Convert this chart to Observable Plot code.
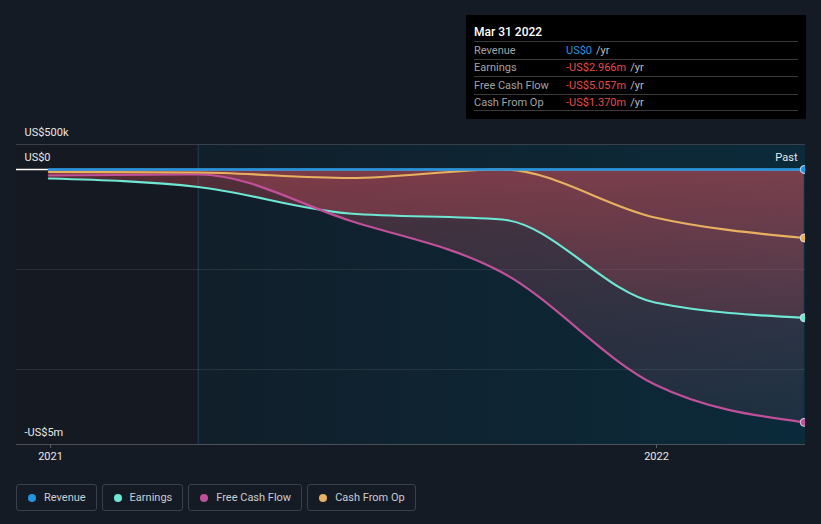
<!DOCTYPE html>
<html><head><meta charset="utf-8">
<script src="https://cdn.jsdelivr.net/npm/d3@7"></script>
<script src="https://cdn.jsdelivr.net/npm/@observablehq/plot@0.6"></script>
<style>
html,body{margin:0;padding:0;background:#151b24;}
body{width:821px;height:524px;position:relative;overflow:hidden;font-family:Roboto,"Noto Sans",sans-serif;}
#chart{position:absolute;left:0;top:0;}
#tip{position:absolute;left:466px;top:15px;width:340px;height:104px;background:#000;box-sizing:border-box;padding:0 8px;}
#tip .tt{color:#fff;font-size:12px;font-weight:500;height:26px;line-height:16px;padding-top:9px;box-sizing:border-box;}
#tip .row{border-top:1px solid #3a3a3a;height:17.5px;box-sizing:border-box;display:flex;align-items:center;font-size:11px;}
#tip .row.last{border-bottom:1px solid #3a3a3a;}
#tip .lab{color:#a3a3a3;width:92px;}
#tip .yr{color:#bdbdbd;margin-left:4px;}
#legend{position:absolute;left:16px;top:484px;display:flex;gap:5px;}
.item{height:27px;border:1px solid #3a404b;border-radius:3px;display:flex;align-items:center;padding:0 10px 0 11px;color:#c9ccd3;font-size:11px;box-sizing:border-box;}
.dot{width:8px;height:8px;border-radius:50%;margin-right:8px;}
</style></head>
<body>
<div id="chart"></div>
<div id="tip"></div>
<div id="legend"></div>
<script>
// ---- data ----
const dates = ["2020-12-31","2021-03-31","2021-06-30","2021-09-30","2021-12-31","2022-03-31"];
const revenue = [0, 0, 0, 0, 0, 0];
const earnings = [-180000, -350000, -880000, -1000000, -2660000, -2966000];
const freeCashFlow = [-120000, -100000, -1020000, -2060000, -4300000, -5057000];
const cashFromOp = [-50000, -60000, -170000, 0, -960000, -1370000];
const seriesNames = ["Revenue", "Earnings", "Free Cash Flow", "Cash From Op"];
const seriesColors = ["#2394df", "#6ee7d4", "#c0509a", "#e8b160"];
const yLabelValues = [500000, 0, -5500000];
const yLabels = ["US$500k", "US$0", "-US$5m"];
const gridValues = [-2000000, -4000000];
const xTicks = ["2021-01-01", "2022-01-01"];
const xTickLabels = ["2021", "2022"];
const xDomain = ["2020-12-11T12:00:00Z", "2022-03-31T18:00:00Z"];
const yDomain = [-5500000, 500000];
const pastStart = "2021-03-31";
const tipTitle = "Mar 31 2022";

const rows = dates.map((d, i) => ({
  date: new Date(d), revenue: revenue[i], earnings: earnings[i],
  fcf: freeCashFlow[i], cfo: cashFromOp[i]
}));
const last = rows[rows.length - 1];
const keys = ["revenue", "earnings", "fcf", "cfo"];
const xTickDates = xTicks.map(d => new Date(d));
const ymd = d3.utcFormat("%Y-%m-%d");

const defs = () => {
  const d = d3.create("svg:defs");
  const g1 = d.append("linearGradient").attr("id", "gPast").attr("x1", 0).attr("x2", 1).attr("y1", 0).attr("y2", 0);
  g1.append("stop").attr("offset", 0).attr("stop-color", "#111f2a");
  g1.append("stop").attr("offset", 1).attr("stop-color", "#0b2a3a");
  const g2 = d.append("linearGradient").attr("id", "gE").attr("x1", 0).attr("x2", 0).attr("y1", 0).attr("y2", 1);
  g2.append("stop").attr("offset", 0).attr("stop-color", "#e0505a").attr("stop-opacity", 0.32);
  g2.append("stop").attr("offset", 1).attr("stop-color", "#e0505a").attr("stop-opacity", 0.15);
  const g3 = d.append("linearGradient").attr("id", "gF").attr("x1", 0).attr("x2", 0).attr("y1", 0).attr("y2", 1);
  g3.append("stop").attr("offset", 0).attr("stop-color", "#c45060").attr("stop-opacity", 0.34);
  g3.append("stop").attr("offset", 1).attr("stop-color", "#a06078").attr("stop-opacity", 0.12);
  return d.node();
};

const chart = Plot.plot({
  width: 821, height: 470,
  marginLeft: 16, marginRight: 16, marginTop: 144, marginBottom: 26,
  style: {background: "transparent", fontFamily: "Roboto, 'Noto Sans', sans-serif"},
  x: {type: "utc", domain: xDomain.map(d => new Date(d))},
  y: {type: "linear", domain: yDomain, axis: null},
  marks: [
    defs,
    Plot.rect([{x1: new Date(xDomain[0]), x2: new Date(pastStart)}], {x1: "x1", x2: "x2", y1: yDomain[0], y2: yDomain[1], fill: "#151a22"}),
    Plot.rect([{x1: new Date(pastStart), x2: new Date(xDomain[1])}], {x1: "x1", x2: "x2", y1: yDomain[0], y2: yDomain[1], fill: "url(#gPast)"}),
    Plot.ruleX([new Date(pastStart)], {y1: yDomain[0], y2: yDomain[1], stroke: "#17364a", strokeWidth: 1.5}),
    Plot.ruleY([yDomain[1]], {stroke: "#3a4049", strokeWidth: 1}),
    Plot.ruleY(gridValues, {stroke: "#ffffff", strokeOpacity: 0.09, strokeWidth: 1}),
    Plot.areaY(rows, {x: "date", y1: 0, y2: "fcf", curve: "monotone-x", fill: "url(#gF)"}),
    Plot.areaY(rows, {x: "date", y1: 0, y2: "earnings", curve: "monotone-x", fill: "url(#gE)"}),
    Plot.ruleY([0], {stroke: "#ffffff", strokeWidth: 1.5}),
    Plot.line(rows, {x: "date", y: "earnings", curve: "monotone-x", stroke: seriesColors[1], strokeWidth: 2.2}),
    Plot.line(rows, {x: "date", y: "fcf", curve: "monotone-x", stroke: seriesColors[2], strokeWidth: 2.2}),
    Plot.line(rows, {x: "date", y: "cfo", curve: "monotone-x", stroke: seriesColors[3], strokeWidth: 2.2}),
    Plot.line(rows, {x: "date", y: "revenue", curve: "monotone-x", stroke: seriesColors[0], strokeWidth: 2.4}),
    Plot.dot(keys.map((k, i) => ({date: last.date, v: last[k], c: seriesColors[i]})),
      {x: "date", y: "v", r: 4, fill: "c", stroke: "#d6dde6", strokeWidth: 1, clip: true}),
    Plot.ruleY([yDomain[0]], {stroke: "#4b515b", strokeWidth: 1.2}),
    Plot.axisX(xTickDates, {tickFormat: d => xTickLabels[xTicks.indexOf(ymd(d))], tickSize: 4, tickPadding: 4,
      stroke: "#5a606a", fill: "#e8e8e8", fontSize: 11}),
    Plot.text(yLabelValues, {frameAnchor: "left", y: d => d, text: (d, i) => yLabels[i], textAnchor: "start", dx: 8, dy: -12, fill: "#e8e8e8", fontSize: 11}),
    Plot.text(["Past"], {frameAnchor: "right", y: 0, text: d => d, textAnchor: "end", dx: -8, dy: -12, fill: "#e8e8e8", fontSize: 11})
  ]
});
document.getElementById("chart").appendChild(chart);

// tooltip
const fmt = v => v === 0 ? "US$0" : (v < 0 ? "-" : "") + "US$" + (Math.abs(v) / 1e6).toFixed(3) + "m";
const tip = document.getElementById("tip");
let html = `<div class="tt">${tipTitle}</div>`;
keys.forEach((k, i) => {
  const v = last[k];
  const col = v === 0 ? seriesColors[0] : "#e64a4a";
  html += `<div class="row${i === keys.length - 1 ? " last" : ""}"><span class="lab">${seriesNames[i]}</span><span style="color:${col}">${fmt(v)}</span><span class="yr">/yr</span></div>`;
});
tip.innerHTML = html;

// legend
const lg = document.getElementById("legend");
seriesNames.forEach((n, i) => {
  const it = document.createElement("div");
  it.className = "item";
  it.innerHTML = `<span class="dot" style="background:${seriesColors[i]}"></span><span>${n}</span>`;
  lg.appendChild(it);
});
</script>
</body></html>
